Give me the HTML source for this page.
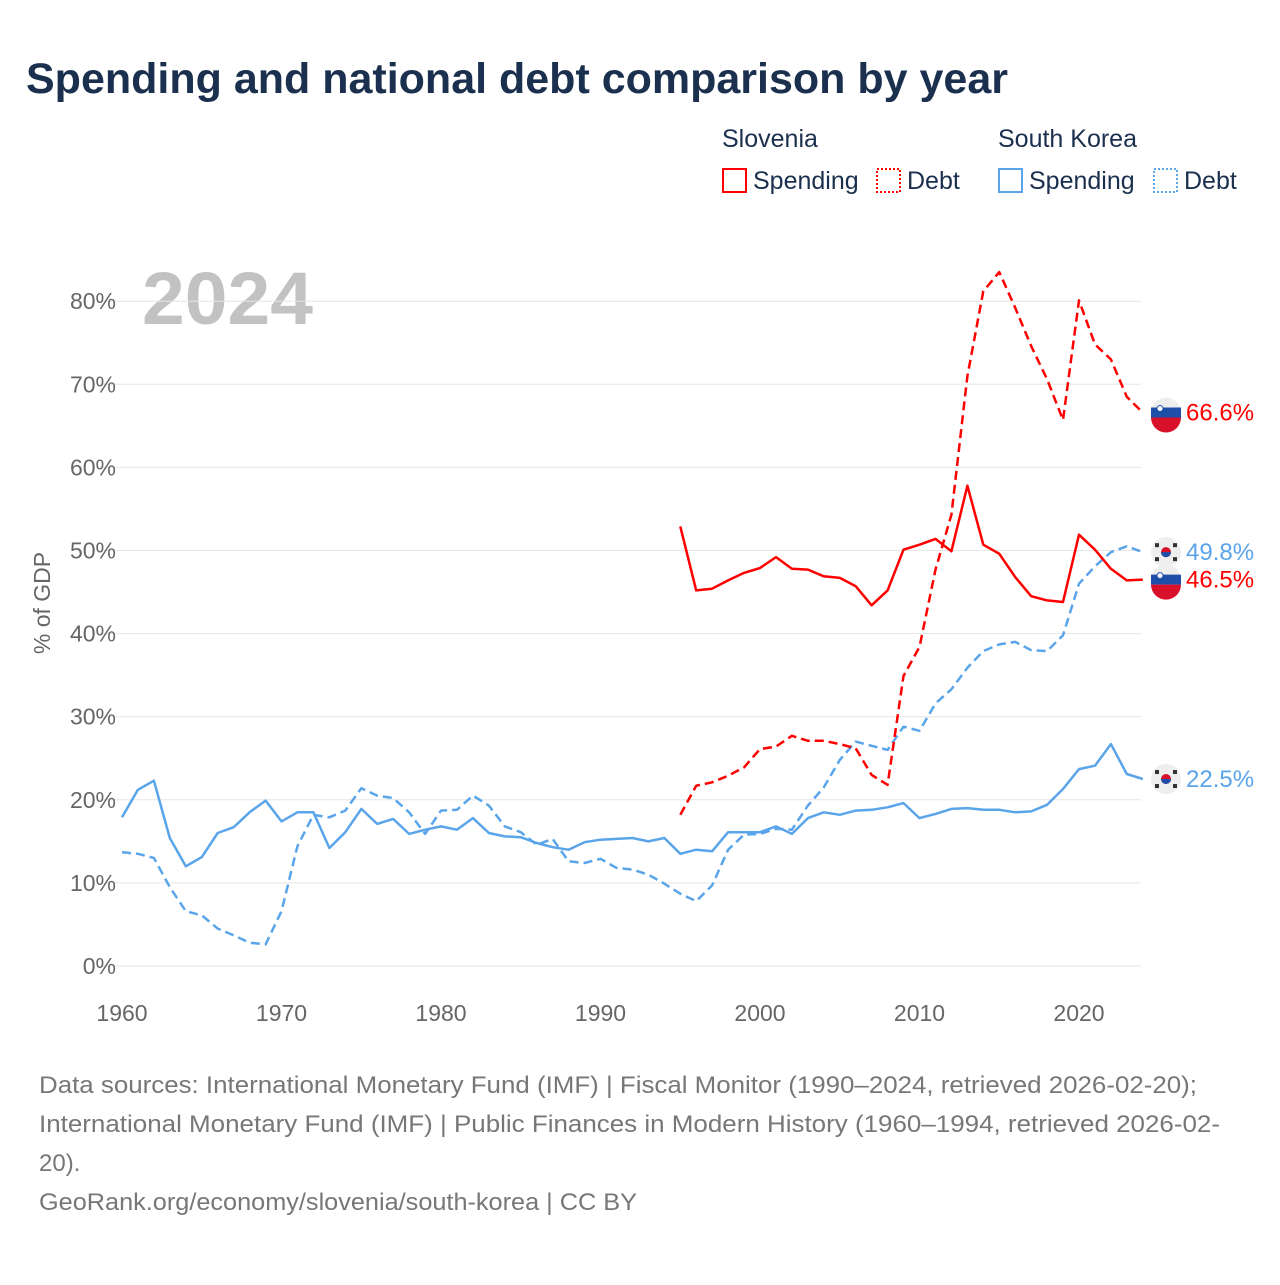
<!DOCTYPE html>
<html><head><meta charset="utf-8"><style>
body{margin:0;background:#fff;font-family:"Liberation Sans",sans-serif;}
</style></head><body>
<svg id="chart" width="1280" height="1280" xmlns="http://www.w3.org/2000/svg" font-family="Liberation Sans, sans-serif">
<text x="26" y="93" font-size="43" font-weight="bold" fill="#1b2f4e" textLength="982" lengthAdjust="spacingAndGlyphs">Spending and national debt comparison by year</text>
<g font-size="25" fill="#1b2f4e">
<text x="722" y="147">Slovenia</text>
<text x="998" y="147">South Korea</text>
<g><rect x="723" y="169" width="23" height="23" fill="none" stroke="#f00" stroke-width="2"/><text x="753" y="189">Spending</text></g>
<g><rect x="877" y="169" width="23" height="23" fill="none" stroke="#f00" stroke-width="2" stroke-dasharray="2,2"/><text x="907" y="189">Debt</text></g>
<g><rect x="999" y="169" width="23" height="23" fill="none" stroke="#5aa5ea" stroke-width="2"/><text x="1029" y="189">Spending</text></g>
<g><rect x="1154" y="169" width="23" height="23" fill="none" stroke="#5aa5ea" stroke-width="2" stroke-dasharray="2,2"/><text x="1184" y="189">Debt</text></g>
</g>
<text x="142" y="324" font-size="74" font-weight="bold" fill="#c2c2c2" textLength="171" lengthAdjust="spacingAndGlyphs">2024</text>
<text transform="translate(50,603) rotate(-90)" text-anchor="middle" font-size="23" fill="#666">% of GDP</text>
<g id="grid"></g><g id="marks"></g><g id="labels"></g>
<g font-size="24" fill="#777">
<text x="39" y="1093" textLength="1158" lengthAdjust="spacingAndGlyphs">Data sources: International Monetary Fund (IMF) | Fiscal Monitor (1990–2024, retrieved 2026-02-20);</text>
<text x="39" y="1132" textLength="1181" lengthAdjust="spacingAndGlyphs">International Monetary Fund (IMF) | Public Finances in Modern History (1960–1994, retrieved 2026-02-</text>
<text x="39" y="1171">20).</text>
<text x="39" y="1210" textLength="598" lengthAdjust="spacingAndGlyphs">GeoRank.org/economy/slovenia/south-korea | CC BY</text>
</g>
</svg>
<script>
const yTicks=[0,10,20,30,40,50,60,70,80];
const xTicks=[1960,1970,1980,1990,2000,2010,2020];
const krSpending=[17.9,21.2,22.3,15.4,12.0,13.1,16.0,16.7,18.5,19.9,17.4,18.5,18.5,14.2,16.1,18.9,17.1,17.7,15.9,16.4,16.8,16.4,17.8,16.0,15.6,15.5,14.8,14.3,14.0,14.9,15.2,15.3,15.4,15.0,15.4,13.5,14.0,13.8,16.1,16.1,16.1,16.8,15.9,17.8,18.5,18.2,18.7,18.8,19.1,19.6,17.8,18.3,18.9,19.0,18.8,18.8,18.5,18.6,19.4,21.3,23.7,24.1,26.7,23.1,22.5];
const krDebt=[13.7,13.5,13.0,9.5,6.6,6.1,4.5,3.7,2.8,2.6,6.6,14.4,18.2,17.9,18.7,21.4,20.5,20.2,18.5,15.9,18.7,18.8,20.5,19.3,16.8,16.1,14.6,15.3,12.6,12.4,12.9,11.8,11.6,11.0,9.9,8.7,7.8,9.7,14.0,15.8,15.9,16.5,16.4,19.3,21.5,24.8,27.0,26.5,26.0,28.8,28.3,31.6,33.3,35.9,37.9,38.7,39.0,38.0,37.9,39.8,46.0,48.1,49.8,50.5,49.8];
const siSpending=[52.9,45.2,45.4,46.4,47.3,47.9,49.2,47.8,47.7,46.9,46.7,45.7,43.4,45.2,50.1,50.7,51.4,49.9,57.8,50.7,49.6,46.8,44.5,44.0,43.8,51.9,50.1,47.8,46.4,46.5];
const siDebt=[18.2,21.7,22.1,22.9,23.9,26.1,26.4,27.7,27.1,27.1,26.7,26.2,23.0,21.8,34.9,38.4,47.7,54.3,71.0,81.2,83.5,79.2,74.6,70.6,65.7,80.1,74.8,73.0,68.5,66.6];
const X=y=>122+(y-1960)*(1079-122)/60;
const Y=v=>966-v*8.31;
const NS='http://www.w3.org/2000/svg';
function mk(t,a,p){const e=document.createElementNS(NS,t);for(const k in a)e.setAttribute(k,a[k]);p.appendChild(e);return e;}
const grid=document.getElementById('grid'),marks=document.getElementById('marks'),labels=document.getElementById('labels');
yTicks.forEach(v=>{
 const l=mk('line',{x1:100,x2:1141,y1:Y(v),y2:Y(v),stroke:'#e6e6e6','stroke-width':1},grid);
 
 
 const t=mk('text',{x:116,y:Y(v)+8,'text-anchor':'end','font-size':23,fill:'#666'},grid);
 t.textContent=v+'%';
 
 
});
xTicks.forEach(yr=>{
 const t=mk('text',{x:X(yr),y:1021,'text-anchor':'middle','font-size':23,fill:'#666'},grid);
 t.textContent=yr;
 
 
});
function line(vals,start,color,dash,name){
 const d=vals.map((v,i)=>(i?'L':'M')+X(start+i).toFixed(1)+','+Y(v).toFixed(1)).join('');
 const p=mk('path',{d:d,fill:'none',stroke:color,'stroke-width':2.5,'stroke-linejoin':'round'},marks);
 if(dash)p.setAttribute('stroke-dasharray','9,5');
 
 
}
line(krSpending,1960,'#5aa5ea',false,'korea-spending-line');
line(krDebt,1960,'#5aa5ea',true,'korea-debt-line');
line(siSpending,1995,'#ff0000',false,'slovenia-spending-line');
line(siDebt,1995,'#ff0000',true,'slovenia-debt-line');
function flag(v,country,color,name){
 const cx=1166,cy=Y(v);
 const g=mk('g',{},labels);
 
 
 if(country==='si'){
  mk('circle',{cx:cx,cy:cy,r:15,fill:'#eee'},g);
  mk('path',{d:`M${cx-15},${cy-5}h30v10h-30z`,fill:'#1e4fa8'},g);
  mk('path',{d:`M${cx-15},${cy+5}h30a15,15 0 0 1 -30,0z`,fill:'#d8102a'},g);
  mk('circle',{cx:cx-6,cy:cy-4,r:3,fill:'#fff',stroke:'#1e4fa8'},g);
 } else {
  mk('circle',{cx:cx,cy:cy,r:15,fill:'#eee'},g);
  mk('circle',{cx:cx,cy:cy,r:5,fill:'#d8102a'},g);
  mk('path',{d:`M${cx-5},${cy}a5,5 0 0 0 10,0z`,fill:'#1e4fa8'},g);
  [[-9,-7],[9,-7],[-9,7],[9,7]].forEach(o=>mk('rect',{x:cx+o[0]-2,y:cy+o[1]-2,width:4,height:4,fill:'#333'},g));
 }
 const t=mk('text',{x:1186,y:cy+8,'font-size':24,fill:color},g);
 t.textContent=v.toFixed(1)+'%';
}
flag(siDebt[siDebt.length-1],'si','#ff0000','slovenia-debt-end-label');
flag(krDebt[krDebt.length-1],'kr','#5aa5ea','korea-debt-end-label');
flag(siSpending[siSpending.length-1],'si','#ff0000','slovenia-spending-end-label');
flag(krSpending[krSpending.length-1],'kr','#5aa5ea','korea-spending-end-label');
</script>
</body></html>
